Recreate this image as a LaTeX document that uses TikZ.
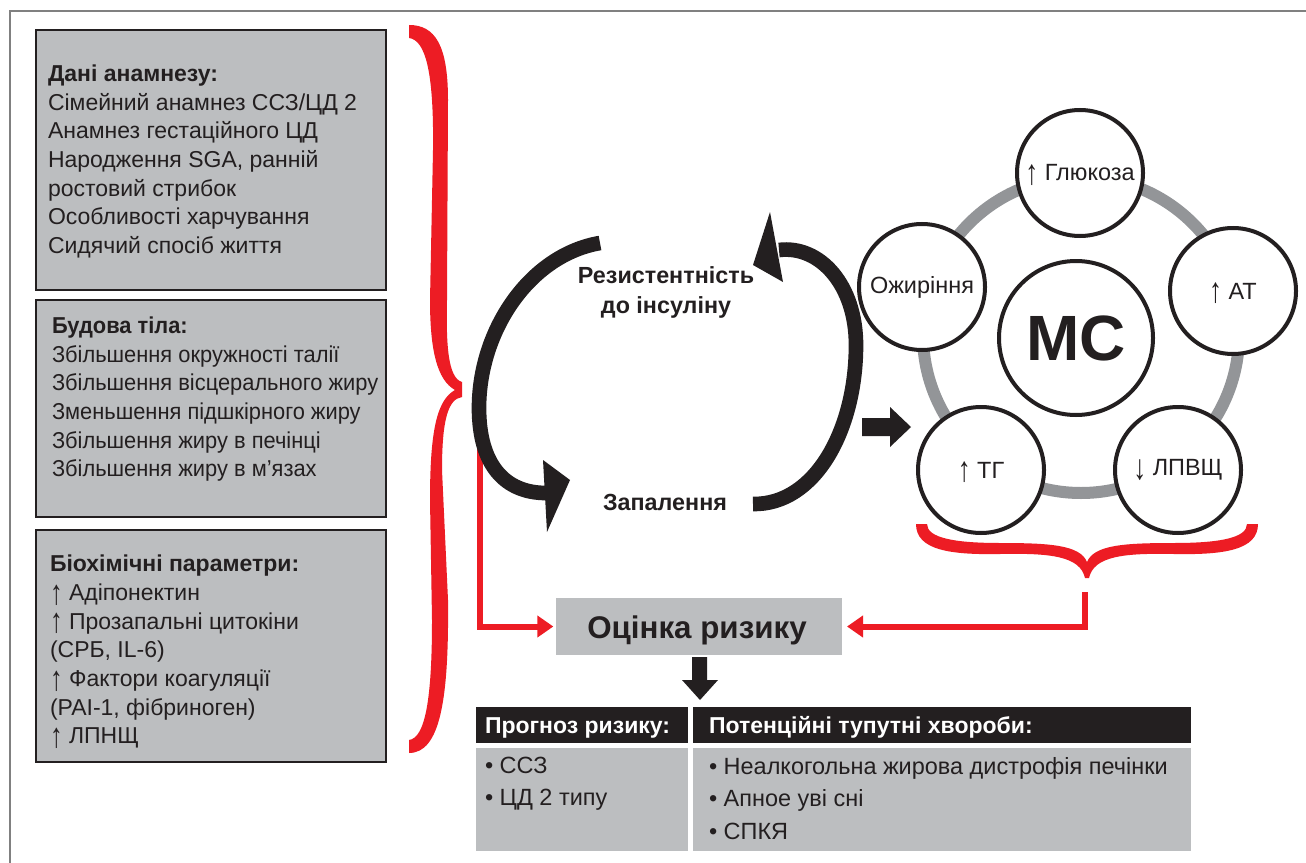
\documentclass[tikz,border=0pt]{standalone}
\usepackage{fontspec}
\usepackage{graphicx}
\setmainfont{Liberation Sans}
\newfontfamily\narrowmain[FakeStretch=0.95]{Liberation Sans}
\usetikzlibrary{arrows.meta}
\definecolor{boxgray}{HTML}{BCBEC0}
\definecolor{ink}{HTML}{231F20}
\definecolor{bred}{HTML}{ED1C24}
\definecolor{ringgray}{HTML}{939598}
\newcommand{\fsmain}{\fontsize{17.25}{21.5}\selectfont}
\newcommand{\upar}{\smash{\raisebox{-0.16em}{\scalebox{1.1}[1.5]{↑}}}}
\newcommand{\dnar}{\smash{\raisebox{-0.16em}{\scalebox{1.1}[1.5]{↓}}}}
\begin{document}
\begin{tikzpicture}[x=0.75pt,y=-0.75pt,
  every node/.style={inner sep=0pt, outer sep=0pt},
  leftbox/.style={rectangle, fill=boxgray, draw=ink, line width=1.5pt, minimum width=262.5pt},
  boxtext/.style={anchor=north west, align=left, font=\fsmain, text=ink},
  circ/.style={circle, draw=ink, fill=white, line width=3pt, minimum size=94.5pt, font=\fontsize{17.6}{21.5}\selectfont, text=ink},
  hdr/.style={rectangle, fill=ink, minimum height=27pt},
  body/.style={rectangle, fill=boxgray, minimum height=77.25pt},
  hdrtext/.style={anchor=base west, font=\fsmain\bfseries, text=white},
  bodytext/.style={anchor=north west, align=left, font=\fontsize{17.6}{24.4}\selectfont, text=ink},
  redarrow/.style={draw=bred, line width=4.5pt, -{Triangle[length=12pt,width=15.75pt]}},
  cyc/.style={draw=ink, line width=11pt},
]
\useasboundingbox (0,0) rectangle (1306,863);
\fill[white] (0,0) rectangle (1306,863);
\draw[gray, line width=1.1pt] (10,863) -- (10,11) -- (1306,11);

% ---- left boxes
\node[leftbox, minimum height=195pt] (b1) at (211,160) {};
\node[boxtext] (t1) at (48,65) {\textbf{Дані анамнезу:}\\Сімейний анамнез ССЗ/ЦД 2\\Анамнез гестаційного ЦД\\Народження SGA, ранній\\ростовий стрибок\\Особливості харчування\\Сидячий спосіб життя};
\node[leftbox, minimum height=162.75pt] (b2) at (211,408.5) {};
\node[boxtext, font=\fsmain\narrowmain] (t2) at (52,316.7) {\textbf{Будова тіла:}\\Збільшення окружності талії\\Збільшення вісцерального жиру\\Зменьшення підшкірного жиру\\Збільшення жиру в печінці\\Збільшення жиру в м’язах};
\node[leftbox, minimum height=174pt] (b3) at (211,646) {};
\node[boxtext] (t3) at (50,555) {\textbf{Біохімічні параметри:}\\\upar\ Адіпонектин\\\upar\ Прозапальні цитокіни\\(СРБ, IL-6)\\\upar\ Фактори коагуляції\\(PAI-1, фібриноген)\\\upar\ ЛПНЩ};

% ---- left red brace
\fill[bred] (409,25) .. controls (435,25) and (448,45) .. (448,100) -- (447,300)
  .. controls (446,345) and (448,378) .. (462,382) -- (462,397)
  .. controls (448,399) and (442,420) .. (442,470) -- (448,600)
  .. controls (449,700) and (440,753) .. (409,753) -- (409,740)
  .. controls (425,738) and (432,700) .. (432,620) -- (430,500)
  .. controls (430,430) and (437,400) .. (455,390)
  .. controls (437,380) and (430,350) .. (430,300) -- (433,150)
  .. controls (434,70) and (425,40) .. (409,38) -- cycle;

% ---- risk box
\node[rectangle, fill=boxgray, minimum width=214.5pt, minimum height=42.75pt] (risk) at (699,626.5) {};
\node[anchor=base, font=\fontsize{23.5}{28}\selectfont\bfseries, text=ink] (riskT) at (697,638) {Оцінка ризику};

% red connector from left brace
\coordinate (redL) at (480,425);
\draw[redarrow, shorten >=2pt] (redL) |- (risk.west);

% ---- cycle arrows
\draw[cyc] (600,243) .. controls (530,255) and (479,330) .. (479,408) .. controls (479,465) and (505,493) .. (546,493);
\fill[ink] (543,460) -- (570,480) -- (547,532) -- cycle;
\draw[cyc] (753,504) .. controls (815,505) and (856,430) .. (856,345) .. controls (856,285) and (820,245) .. (779,250);
\fill[ink] (770,212) -- (783,282) -- (753,265) -- cycle;
\node[anchor=north, align=center, font=\fontsize{17.5}{22.5}\selectfont\bfseries, text=ink] (ir) at (666,266.5) {Резистентність\\до інсуліну};
\node[anchor=base, font=\fontsize{17.5}{22}\selectfont\bfseries, text=ink] (infl) at (665,510) {Запалення};

% ---- black arrow to MS
\coordinate (bkA) at (862,427);
\fill[ink] (bkA) ++(0,-9) -- (890,418) -- (890,407) -- (911,427) -- (890,447) -- (890,436) -- (862,436) -- cycle;

% ---- MS ring
\draw[ringgray, line width=9pt] (1081,335) circle[radius=118.5pt];
\node[circ] (gl) at (1080,173) {\upar\ Глюкоза};
\node[circ] (ob) at (922,287) {Ожиріння};
\node[circ] (at) at (1233,291) {\upar\ АТ};
\node[circ] (tg) at (981,470) {\upar\ ТГ};
\node[circ] (hd) at (1178,470) {\dnar\ ЛПВЩ};
\node[circ, minimum size=115.5pt, font=\fontsize{48}{52}\selectfont\bfseries] (ms) at (1076,338) {МС};

% ---- bottom red brace
\fill[bred] (916,524) -- (927,524)
  .. controls (927,538) and (955,543) .. (1000,543)
  .. controls (1050,543) and (1080,545) .. (1087,562)
  .. controls (1094,545) and (1124,543) .. (1174,543)
  .. controls (1219,543) and (1247,538) .. (1247,524) -- (1258,524)
  .. controls (1258,550) and (1224,555) .. (1174,554)
  .. controls (1124,553) and (1094,556) .. (1089,578) -- (1085,578)
  .. controls (1080,556) and (1050,553) .. (1000,554)
  .. controls (950,555) and (916,550) .. (916,524) -- cycle;
\coordinate (braceTip) at (1085,592);
\draw[redarrow, shorten >=3.75pt] (braceTip) |- (risk.east);

% ---- down arrow
\fill[ink] (692,657) -- (707,657) -- (707,680) -- (718,680) -- (700,700) -- (682,680) -- (692,680) -- cycle;

% ---- bottom table
\node[hdr, minimum width=159pt] (h1) at (582,725) {};
\node[hdr, minimum width=373.5pt] (h2) at (942,725) {};
\node[hdrtext] (h1t) at (485,733) {Прогноз ризику:};
\node[hdrtext] (h2t) at (709,733) {Потенційні тупутні хвороби:};
\node[body, minimum width=159pt] (c1) at (582,799.5) {};
\node[body, minimum width=373.5pt] (c2) at (942,799.5) {};
\node[bodytext] (c1t) at (485,757) {• ССЗ\\• ЦД 2 типу};
\node[bodytext] (c2t) at (709,757) {• Неалкогольна жирова дистрофія печінки\\• Апное уві сні\\• СПКЯ};
\end{tikzpicture}
\end{document}
